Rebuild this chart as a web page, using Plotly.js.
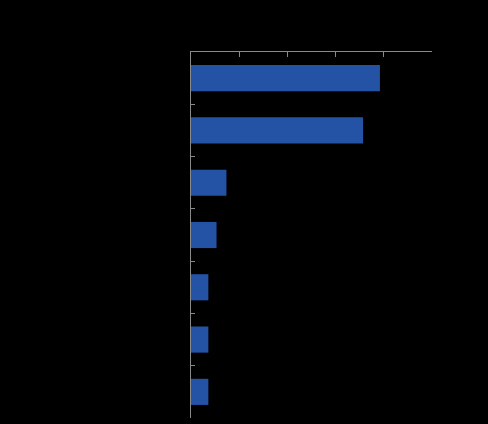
<!DOCTYPE html>
<html>
<head>
<meta charset="utf-8">
<script src="https://cdn.plot.ly/plotly-3.0.1.min.js"></script>
<style>html,body{margin:0;padding:0;background:#000;}#chart{width:488px;height:424px;}</style>
</head>
<body>
<div id="chart"></div>
<script>
const categories = ["Category 1", "Category 2", "Category 3", "Category 4", "Category 5", "Category 6", "Category 7"];
const values = [3.92, 3.57, 0.735, 0.53, 0.36, 0.36, 0.36];
const xTicks = [0, 1, 2, 3, 4, 5];

const axisColor = "#8a8a8a";
Plotly.newPlot("chart", [{
  type: "bar",
  orientation: "h",
  y: categories,
  x: values,
  marker: {color: "#2452a4"},
  hoverinfo: "x+y"
}], {
  width: 488,
  height: 424,
  paper_bgcolor: "#000",
  plot_bgcolor: "#000",
  margin: {l: 191, r: 56, t: 52, b: 6},
  bargap: 0.5,
  showlegend: false,
  xaxis: {
    side: "top",
    range: [0, 5],
    tickvals: xTicks,
    ticks: "inside",
    ticklen: 5,
    tickcolor: axisColor,
    tickwidth: 1,
    showline: true,
    linecolor: axisColor,
    linewidth: 1,
    showgrid: false,
    zeroline: false,
    showticklabels: false
  },
  yaxis: {
    type: "category",
    autorange: "reversed",
    tickson: "boundaries",
    ticks: "inside",
    ticklen: 4,
    tickcolor: axisColor,
    tickwidth: 1,
    showline: true,
    linecolor: axisColor,
    linewidth: 1,
    showgrid: false,
    zeroline: false,
    showticklabels: false
  }
}, {displayModeBar: false, staticPlot: true});
</script>
</body>
</html>
